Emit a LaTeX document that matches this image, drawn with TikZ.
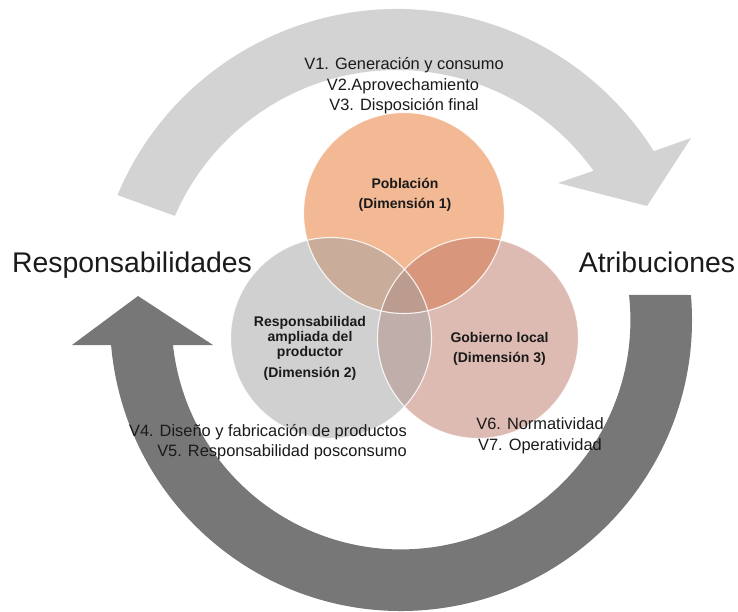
\documentclass[tikz,border=0pt]{standalone}
\usepackage{fontspec}
\setmainfont{Liberation Sans}
\usetikzlibrary{calc}

\definecolor{arcLight}{HTML}{D3D3D3}
\definecolor{arcDark}{HTML}{777777}
\definecolor{dimOne}{RGB}{231,115,43}
\definecolor{dimTwo}{RGB}{161,161,161}
\definecolor{dimThree}{RGB}{189,119,101}
\definecolor{txt}{HTML}{1A1A1A}

\begin{document}
\begin{tikzpicture}[x=1pt, y=-1pt,
  venn/.style={circle, minimum size=201pt, inner sep=0pt, fill opacity=0.5},
  rim/.style={circle, minimum size=201pt, inner sep=0pt, draw=white, draw opacity=0.85, line width=1.1pt},
  bigword/.style={font=\fontsize{28.4}{34}\selectfont, text=txt, inner sep=0pt, anchor=base},
  varline/.style={font=\fontsize{16.4}{20.5}\selectfont, text=txt, inner sep=0pt, anchor=base},
  dimline/.style={font=\fontsize{14}{16}\selectfont\bfseries, text=txt, inner sep=0pt, anchor=base},
]
\useasboundingbox (0,0) rectangle (738,611);

% centres of the two curved arrows
\coordinate (topC) at (397,312);
\coordinate (botC) at (401,320);

% upper light arrow, running clockwise from left to right
\fill[arcLight]
  ($(topC)+(-157.3:303)$) arc[start angle=-157.3, end angle=-32.06, radius=303]
  -- (691,138) -- (647,206) -- (558,183)
  -- ($(topC)+(-35.7:242)$) arc[start angle=-35.7, end angle=-156.6, radius=242]
  -- cycle;

% lower dark arrow, running from right round the bottom up to the left
\fill[arcDark]
  ($(botC)+(-6.26:229.4)$) -- ($(botC)+(-4.93:291)$)
  arc[start angle=-4.93, end angle=175.07, radius=291]
  -- (72,345) -- (138,296) -- (213,345)
  -- ($(botC)+(173.74:229.4)$) arc[start angle=173.74, end angle=-6.26, radius=229.4]
  -- cycle;

% Venn circles
\node[venn, fill=dimOne]   (pob) at (404,213) {};
\node[venn, fill=dimThree] (gob) at (478,338) {};
\node[venn, fill=dimTwo]   (rep) at (331,338) {};
\node[rim] (pobRim) at (pob) {};
\node[rim] (gobRim) at (gob) {};
\node[rim] (repRim) at (rep) {};

% circle labels
\node[dimline] (pobA) at (405,188) {Población};
\node[dimline] (pobB) at (405,208.5) {(Dimensión 1)};
\node[dimline] (repA) at (310,326) {Responsabilidad};
\node[dimline] (repB) at (310,341) {ampliada del};
\node[dimline] (repC) at (310,356) {productor};
\node[dimline] (repD) at (310,377) {(Dimensión 2)};
\node[dimline] (gobA) at (499.5,342) {Gobierno local};
\node[dimline] (gobB) at (499.5,362) {(Dimensión 3)};

% side words
\node[bigword] (resp) at (132,272) {Responsabilidades};
\node[bigword] (atri) at (657,272) {Atribuciones};

% variable lists
\node[varline] (v1) at (404,69.5) {V1. Generación y consumo};
\node[varline] (v2) at (403,90) {V2.Aprovechamiento};
\node[varline] (v3) at (404,110.5) {V3. Disposición final};
\node[varline, anchor=base east] (v4) at (407,436) {V4. Diseño y fabricación de productos};
\node[varline, anchor=base east] (v5) at (407,456.5) {V5. Responsabilidad posconsumo};
\node[varline] (v6) at (540,429.5) {V6. Normatividad};
\node[varline] (v7) at (540,450) {V7. Operatividad};
\end{tikzpicture}
\end{document}
